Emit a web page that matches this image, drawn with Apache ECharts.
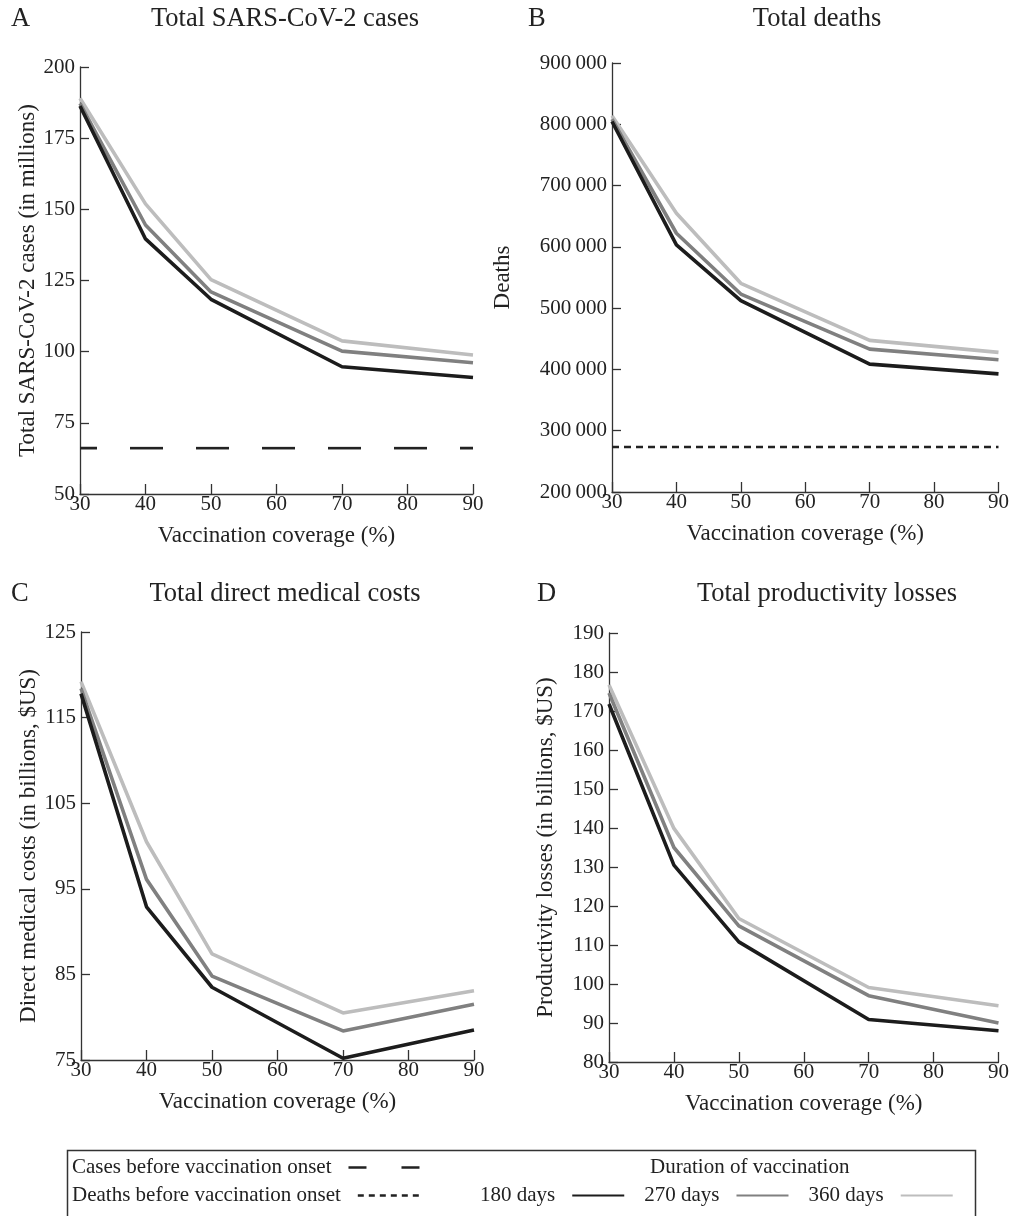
<!DOCTYPE html>
<html>
<head>
<meta charset="utf-8">
<script src="https://cdn.jsdelivr.net/npm/echarts@6/dist/echarts.min.js"></script>
<style>
  html, body { margin: 0; padding: 0; background: #fff; }
  #chart { width: 1012px; height: 1216px; }
</style>
</head>
<body>
<div id="chart"></div>
<script>
// vaccination coverage (%) on the x axis
const coverage = [30, 40, 50, 70, 90];
const durations = ['180 days', '270 days', '360 days'];
const lineColors = ['#1c1c1c', '#808080', '#bdbdbd'];

// A: total cases (millions)
const cases180 = [186.3, 139.6, 118.4, 94.7, 90.9];
const cases270 = [187.2, 144.5, 121.0, 100.2, 96.1];
const cases360 = [189.0, 151.9, 125.3, 103.8, 98.8];
const casesBefore = 66.1;

// B: total deaths
const deaths180 = [804600, 603100, 512100, 408700, 392800];
const deaths270 = [808500, 622200, 523000, 433200, 415700];
const deaths360 = [813900, 654900, 540500, 447400, 427800];
const deathsBefore = 273500;

// C: direct medical costs (billions $US)
const medical180 = [117.8, 92.9, 83.5, 75.2, 78.5];
const medical270 = [118.4, 96.1, 84.8, 78.4, 81.5];
const medical360 = [119.2, 100.5, 87.4, 80.5, 83.1];

// D: productivity losses (billions $US)
const prod180 = [171.8, 130.5, 110.8, 90.9, 88.0];
const prod270 = [174.6, 135.0, 114.9, 97.0, 90.0];
const prod360 = [176.7, 139.9, 116.8, 99.1, 94.4];

const FONT = 'Liberation Serif';
const INK = '#222';

const panels = [
  { letter: 'A', letterX: 11, title: 'Total SARS-CoV-2 cases', yName: 'Total SARS-CoV-2 cases (in millions)',
    grid: { left: 80, top: 67, width: 393, height: 427 }, titleX: 285, titleY: 6,
    yMin: 50, yMax: 200, yStep: 25, nameGap: 40, series: [cases180, cases270, cases360] },
  { letter: 'B', letterX: 528, title: 'Total deaths', yName: 'Deaths',
    grid: { left: 612, top: 63, width: 392, height: 429 }, titleX: 817, titleY: 6,
    yMin: 200000, yMax: 900000, yStep: 100000, nameGap: 98, series: [deaths180, deaths270, deaths360] },
  { letter: 'C', letterX: 11, title: 'Total direct medical costs', yName: 'Direct medical costs (in billions, $US)',
    grid: { left: 81, top: 632, width: 393, height: 428 }, titleX: 285, titleY: 581,
    yMin: 75, yMax: 125, yStep: 10, nameGap: 41, series: [medical180, medical270, medical360] },
  { letter: 'D', letterX: 537, title: 'Total productivity losses', yName: 'Productivity losses (in billions, $US)',
    grid: { left: 609, top: 633, width: 394, height: 429 }, titleX: 827, titleY: 581,
    yMin: 80, yMax: 190, yStep: 10, nameGap: 52, series: [prod180, prod270, prod360] }
];

function thinSpace(v) {
  return String(v).replace(/\B(?=(\d{3})+(?!\d))/g, '\u2009');
}

const axisLine = { show: true, lineStyle: { color: '#333', width: 1.3 } };
const axisTick = { show: true, inside: true, lineStyle: { color: '#333', width: 1.3 } };
const titleText = { fontFamily: FONT, fontSize: 26.5, fontWeight: 'normal', color: INK };

const titles = [];
const grids = [];
const xAxes = [];
const yAxes = [];
const series = [];

panels.forEach((p, i) => {
  titles.push({ text: p.letter, left: p.letterX, top: p.titleY, padding: 0, textStyle: titleText });
  titles.push({ text: p.title, left: p.titleX, top: p.titleY, padding: 0, textAlign: 'center', textStyle: titleText });
  grids.push(p.grid);
  xAxes.push({
    type: 'value', gridIndex: i, min: 30, max: 90, interval: 10,
    name: 'Vaccination coverage (%)', nameLocation: 'middle', nameGap: 30,
    nameTextStyle: { fontFamily: FONT, fontSize: 23, color: INK },
    axisLine, axisTick: { ...axisTick, length: 10 },
    axisLabel: { fontFamily: FONT, fontSize: 21, color: INK, margin: 0 },
    splitLine: { show: false }
  });
  yAxes.push({
    type: 'value', gridIndex: i, min: p.yMin, max: p.yMax, interval: p.yStep,
    name: p.yName, nameLocation: 'middle', nameGap: p.nameGap,
    nameTextStyle: { fontFamily: FONT, fontSize: 23, color: INK },
    axisLine, axisTick: { ...axisTick, length: 9 },
    axisLabel: { fontFamily: FONT, fontSize: 21, color: INK, margin: 5, formatter: thinSpace },
    splitLine: { show: false }
  });
  // lighter lines first so the 180-day line sits on top
  [2, 1, 0].forEach(d => {
    series.push({
      type: 'line', name: durations[d], xAxisIndex: i, yAxisIndex: i,
      data: coverage.map((x, k) => [x, p.series[d][k]]),
      symbol: 'none', color: lineColors[d],
      lineStyle: { color: lineColors[d], width: 3.6 },
      z: 3 + (2 - d)
    });
  });
});

series.push({
  type: 'line', name: 'Cases before vaccination onset', xAxisIndex: 0, yAxisIndex: 0,
  data: [[30, casesBefore], [90, casesBefore]], symbol: 'none', color: '#222',
  lineStyle: { color: '#222', width: 2.6, type: [33, 33], dashOffset: 16 }
});
series.push({
  type: 'line', name: 'Deaths before vaccination onset', xAxisIndex: 1, yAxisIndex: 1,
  data: [[30, deathsBefore], [90, deathsBefore]], symbol: 'none', color: '#222',
  lineStyle: { color: '#222', width: 2.6, type: [7, 5] }
});

const legendText = { fontFamily: FONT, fontSize: 21, color: INK, padding: [0, 12, 0, 0] };
const legendBase = { align: 'right', itemHeight: 14, padding: 0, textStyle: legendText, itemStyle: { opacity: 0 } };

const option = {
  backgroundColor: '#fff',
  animation: false,
  title: titles,
  grid: grids,
  xAxis: xAxes,
  yAxis: yAxes,
  series: series,
  legend: [
    { ...legendBase, left: 72, top: 1157, itemWidth: 73,
      data: [{ name: 'Cases before vaccination onset', lineStyle: { type: [18, 35], dashOffset: 0, width: 2.6 } }] },
    { ...legendBase, left: 72, top: 1185, itemWidth: 65,
      data: [{ name: 'Deaths before vaccination onset', lineStyle: { type: [6, 5], dashOffset: 0, width: 2.6 } }] },
    { ...legendBase, orient: 'horizontal', left: 480, top: 1185, itemGap: 19, itemWidth: 52, data: durations }
  ],
  graphic: [
    { type: 'rect', left: 65, top: 1148, shape: { width: 908, height: 90 }, silent: true,
      style: { fill: 'none', stroke: '#333', lineWidth: 1.5 } },
    { type: 'text', left: 650, top: 1157, silent: true,
      style: { text: 'Duration of vaccination', font: '21px "Liberation Serif"', fill: INK } }
  ]
};

const chart = echarts.init(document.getElementById('chart'), null, { renderer: 'canvas' });
chart.setOption(option);
</script>
</body>
</html>
